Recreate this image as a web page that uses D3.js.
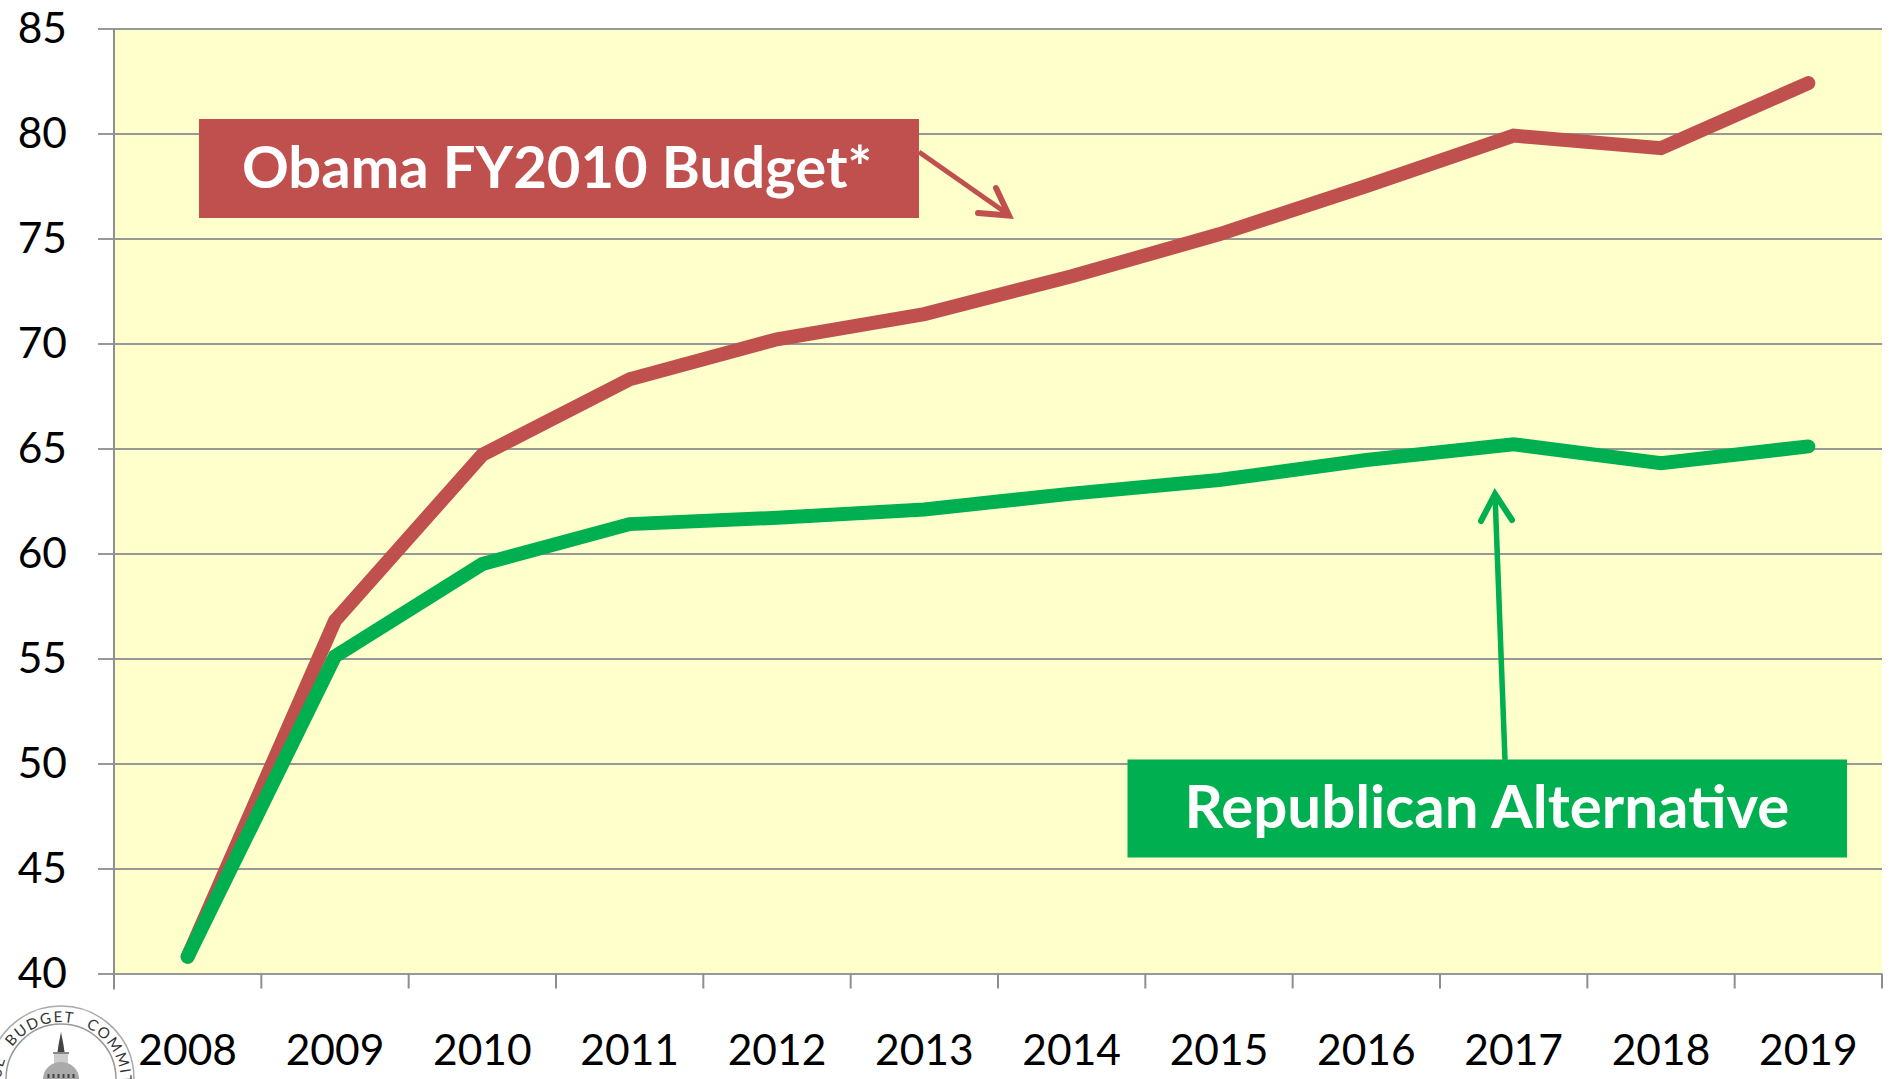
<!DOCTYPE html>
<html><head><meta charset="utf-8">
<style>html,body{margin:0;padding:0;background:#fff;overflow:hidden}svg{display:block}text{font-family:Lato,"Open Sans",sans-serif}</style>
<script src="https://cdn.jsdelivr.net/npm/d3@7"></script></head>
<body><svg id="c" width="1891" height="1079"></svg>
<script>
const years=["2008","2009","2010","2011","2012","2013","2014","2015","2016","2017","2018","2019"];
const obama=[40.8,56.8,64.7,68.3,70.2,71.4,73.2,75.2,77.5,79.9,79.3,82.4];
const republican=[40.8,55.1,59.5,61.4,61.7,62.1,62.85,63.5,64.45,65.2,64.3,65.1];
const yTicks=[40,45,50,55,60,65,70,75,80,85];
const RED="#C0504D",GREEN="#00AF50",AX="#8E8E8E",GRID="#989898";
const L=114,R=1882,T=28.5,B=973.5;
const svg=d3.select("#c");
const x=d3.scaleBand().domain(years).range([L,R]);
const y=d3.scaleLinear().domain([40,85]).range([B,T]);
svg.append("rect").attr("x",L).attr("y",T).attr("width",R-L).attr("height",B-T).attr("fill","#FFFFCC");
const gy=svg.append("g").attr("transform",`translate(${L},0)`).call(d3.axisLeft(y).tickValues(yTicks).tickSize(16).tickPadding(12));
gy.select(".domain").remove();
gy.selectAll("line").attr("stroke",GRID).attr("stroke-width",2).attr("x2",-16);
gy.selectAll(".tick").append("line").attr("x1",0).attr("x2",R-L).attr("stroke",GRID).attr("stroke-width",2);
gy.selectAll("text").attr("font-size",42.5).attr("fill","#000").attr("font-family","Lato").attr("x",-47).attr("dy","0.34em");
svg.append("line").attr("x1",L).attr("x2",L).attr("y1",T).attr("y2",B+16).attr("stroke",AX).attr("stroke-width",2);
svg.append("g").selectAll("line").data(years.slice(1).concat(["end"])).join("line")
 .attr("x1",d=>d==="end"?R:x(d)).attr("x2",d=>d==="end"?R:x(d)).attr("y1",B).attr("y2",B+15).attr("stroke",AX).attr("stroke-width",2);
svg.append("g").selectAll("text").data(years).join("text").text(d=>d)
 .attr("x",d=>x(d)+x.bandwidth()/2).attr("y",1065).attr("text-anchor","middle").attr("font-size",42.5).attr("fill","#000");
const line=d3.line().x((d,i)=>x(years[i])+x.bandwidth()/2).y(d=>y(d));
svg.append("path").datum(obama).attr("d",line).attr("fill","none").attr("stroke",RED).attr("stroke-width",14).attr("stroke-linecap","round").attr("stroke-linejoin","miter");
svg.append("path").datum(republican).attr("d",line).attr("fill","none").attr("stroke",GREEN).attr("stroke-width",14).attr("stroke-linecap","round").attr("stroke-linejoin","miter");
// callouts
svg.append("path").attr("d","M919 152L1009 215").attr("stroke",RED).attr("stroke-width",5).attr("fill","none");
svg.append("path").attr("d","M978 213L1009 215.5L996 188").attr("stroke",RED).attr("stroke-width",6).attr("fill","none").attr("stroke-linecap","round");
svg.append("rect").attr("x",199).attr("y",119).attr("width",720).attr("height",99).attr("fill",RED);
svg.append("text").text("Obama FY2010 Budget*").attr("x",557).attr("y",188).attr("text-anchor","middle").attr("font-size",58).attr("font-weight",700).attr("fill","#fff");
svg.append("path").attr("d","M1505 760L1495 494").attr("stroke",GREEN).attr("stroke-width",5.5).attr("fill","none");
svg.append("path").attr("d","M1481 521L1495 494L1512 520").attr("stroke",GREEN).attr("stroke-width",6).attr("fill","none").attr("stroke-linecap","round");
svg.append("rect").attr("x",1127.5).attr("y",759.5).attr("width",719.5).attr("height",98).attr("fill",GREEN);
svg.append("text").text("Republican Alternative").attr("x",1487).attr("y",828).attr("text-anchor","middle").attr("font-size",60).attr("font-weight",700).attr("fill","#fff");
// seal
const s=svg.append("g").attr("transform","translate(61,1079)");
s.append("circle").attr("r",73).attr("fill","#fff").attr("stroke","#aaa").attr("stroke-width",1.5);
s.append("circle").attr("r",55).attr("fill","#fff").attr("stroke","#999").attr("stroke-width",1.5);
s.append("path").attr("id","sealArc").attr("d","M-59 14A60 60 0 1 1 59 14").attr("fill","none");
s.append("text").attr("font-size",15).attr("fill","#333").attr("font-family","Liberation Sans").attr("letter-spacing",1.6).attr("word-spacing",7)
 .append("textPath").attr("href","#sealArc").attr("startOffset","50%").attr("text-anchor","middle").text("HOUSE BUDGET COMMITTEE");
s.append("path").attr("d","M0 -47L2.5 -34L3.5 -27L-3.5 -27L-2.5 -34Z").attr("fill","#444");
s.append("rect").attr("x",-8).attr("y",-27).attr("width",16).attr("height",2).attr("fill","#888");
s.append("rect").attr("x",-7).attr("y",-25).attr("width",14).attr("height",10).attr("fill","#ccc");
s.append("path").attr("d","M-18 0A18 17 0 0 1 18 0Z").attr("fill","#aaa");
s.append("g").selectAll("rect").data([-13,-8,-3,2,7,12]).join("rect").attr("x",d=>d-.5).attr("y",-5).attr("width",2).attr("height",4).attr("fill","#444");
</script></body></html>
